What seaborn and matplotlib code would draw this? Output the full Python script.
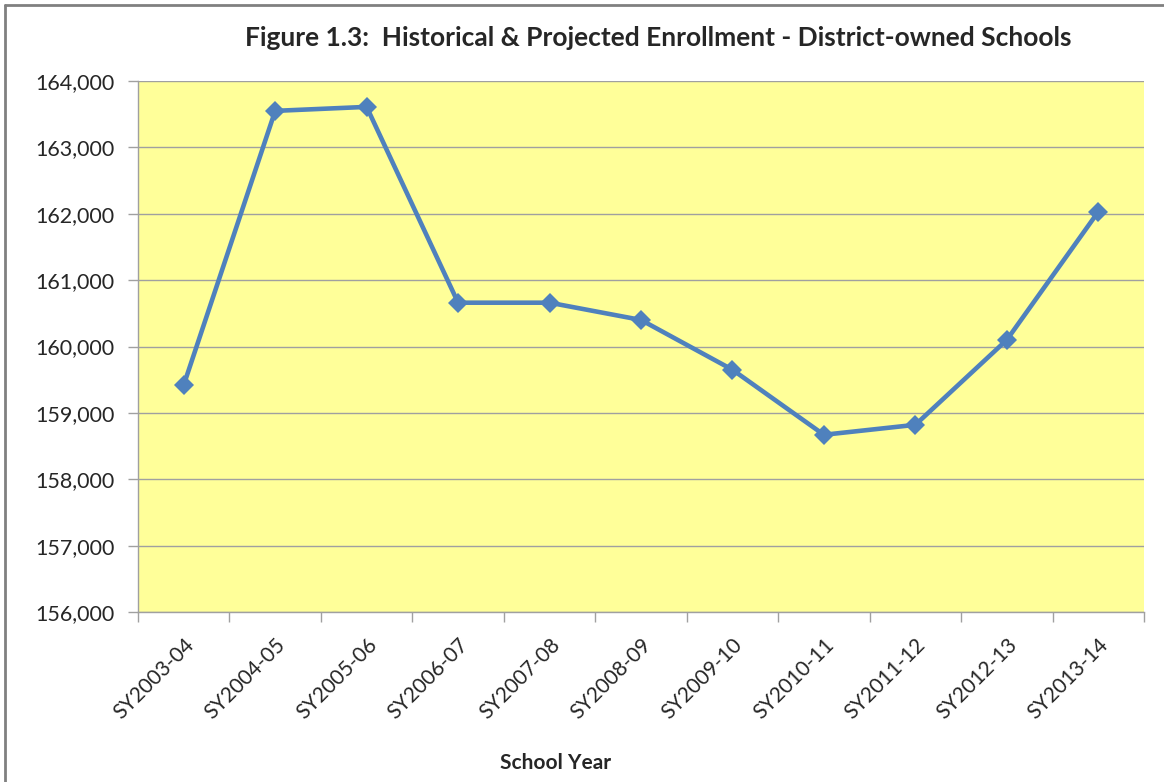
import matplotlib
matplotlib.use("Agg")
import matplotlib.pyplot as plt
import matplotlib.ticker as mticker
import seaborn as sns
import pandas as pd

# enrollment data
years = ["SY2003-04", "SY2004-05", "SY2005-06", "SY2006-07", "SY2007-08",
         "SY2008-09", "SY2009-10", "SY2010-11", "SY2011-12", "SY2012-13",
         "SY2013-14"]
enrollment = [159420, 163550, 163610, 160660, 160660, 160400, 159650,
              158670, 158820, 160100, 162030]

df = pd.DataFrame({"year": years, "enrollment": enrollment})

sns.set_theme(style="white")
plt.rcParams["font.family"] = ["Lato", "DejaVu Sans"]

fig = plt.figure(figsize=(11.64, 7.82), dpi=100)
ax = fig.add_axes([138 / 1164, 1 - 612 / 782, (1144 - 138) / 1164, (612 - 81) / 782])
ax.set_facecolor("#FFFF99")

sns.lineplot(data=df, x="year", y="enrollment", ax=ax, color="#4F81BD",
             linewidth=3.3, marker="D", markersize=10, markeredgewidth=0,
             sort=False)

ax.set_xlim(-0.5, len(years) - 0.5)
ax.set_ylim(156000, 164000)
ax.yaxis.set_major_locator(mticker.MultipleLocator(1000))
ax.yaxis.set_major_formatter(mticker.FuncFormatter(lambda v, p: f"{v:,.0f}"))
ax.grid(axis="y", color="#A0A0A0", linewidth=1)
ax.set_axisbelow(True)

# ticks between categories, labels at category centres
ax.set_xticks(range(len(years)))
ax.set_xticklabels(years, rotation=45, ha="right", rotation_mode="anchor",
                   fontsize=15)
ax.set_xticks([i - 0.5 for i in range(len(years) + 1)], minor=True)
ax.tick_params(axis="x", which="major", length=0, pad=16)
ax.tick_params(axis="x", which="minor", length=7, color="#A0A0A0", width=1,
               direction="out", bottom=True)
ax.tick_params(axis="y", length=7, color="#A0A0A0", width=1, left=True,
               labelsize=15.5, pad=10)

for s in ["top", "right"]:
    ax.spines[s].set_visible(False)
for s in ["left", "bottom"]:
    ax.spines[s].set_color("#A0A0A0")
    ax.spines[s].set_linewidth(1)

ax.set_xlabel("")
ax.set_ylabel("")

fig.text(658 / 1164, 1 - 38 / 782,
         "Figure 1.3:  Historical & Projected Enrollment - District-owned Schools",
         ha="center", va="center", fontsize=19, fontweight="bold")
fig.text(556 / 1164, 1 - 763 / 782, "School Year", ha="center", va="center",
         fontsize=15, fontweight="bold")

# outer chart border (left and top visible in the crop)
fig.add_artist(plt.Line2D([5 / 1164, 5 / 1164], [0, 1 - 5 / 782],
                          transform=fig.transFigure, color="#808080", linewidth=2))
fig.add_artist(plt.Line2D([5 / 1164, 1], [1 - 5 / 782, 1 - 5 / 782],
                          transform=fig.transFigure, color="#808080", linewidth=2))

fig.savefig("out.png", dpi=100)
